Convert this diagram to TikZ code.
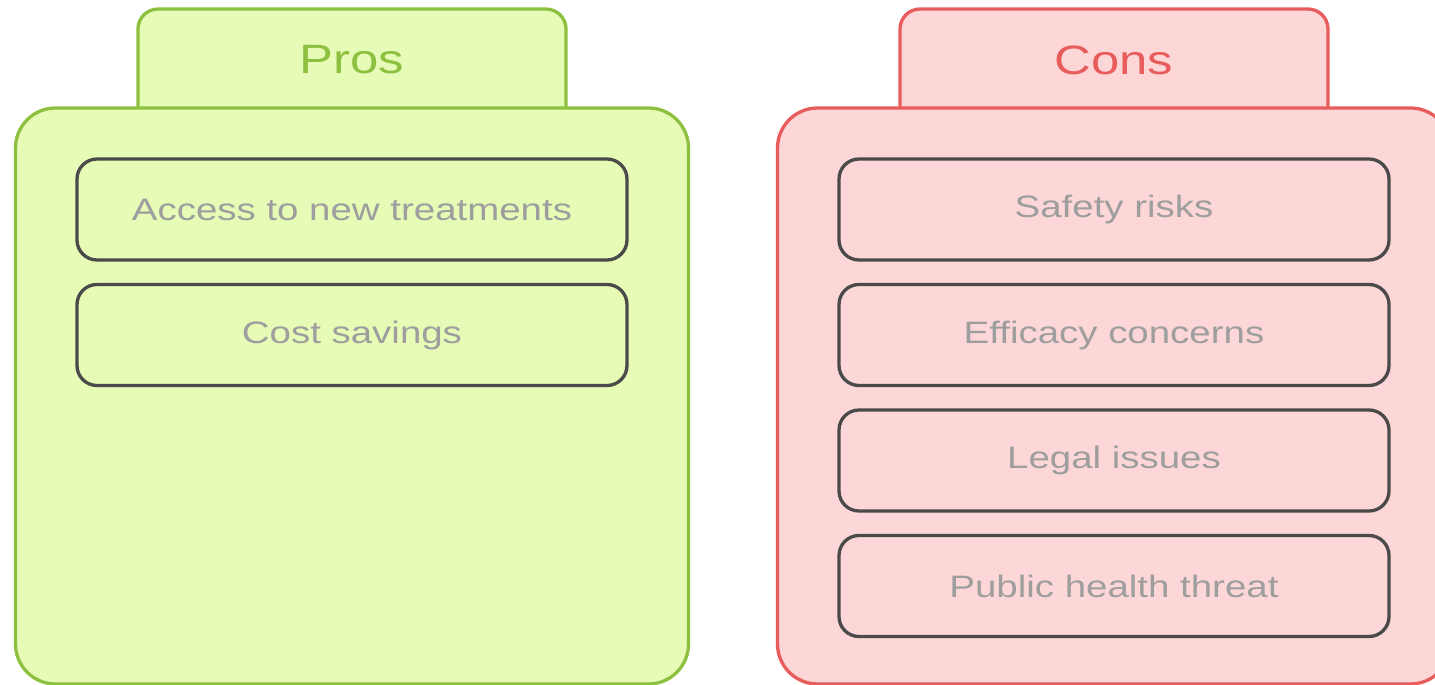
\documentclass[tikz,border=0pt]{standalone}
\usepackage{fontspec}
\setmainfont[FakeStretch=1.24]{Liberation Sans}
\definecolor{prosfill}{HTML}{E6FBB6}
\definecolor{prosline}{HTML}{8DC03F}
\definecolor{consfill}{HTML}{FDD7D7}
\definecolor{consline}{HTML}{E85C5C}
\definecolor{itemline}{HTML}{4A4A4A}
\definecolor{itemtext}{HTML}{9E9E9E}
\newcommand*\prosConsColumn[4]{%
    \node[column/tab=#1] (#1 tab) at (#2,69.5) {};
    \node[column/body=#1] (#1 body) at (#2,396) {};
    \node[column/title=#1] (#1 title) at (#2,60) {#3};
    \foreach \entry [count=\i] in {#4} {%
        \node[column/item] (#1 item \i) at (#2,{209.5+125.5*(\i-1)}) {\entry};
    }
}
\tikzset{column/.cd,
         tab/.style={draw=#1line,fill=#1fill,line width=3.3pt,rounded corners=20pt,
                     minimum width=428pt,minimum height=121pt},
         body/.style={draw=#1line,fill=#1fill,line width=3.3pt,rounded corners=40pt,
                      minimum width=673pt,minimum height=576pt},
         title/.style={text=#1line,font=\fontsize{41}{41}\selectfont},
         item/.style={draw=itemline,line width=3.3pt,rounded corners=20pt,text=itemtext,
                      minimum width=550pt,minimum height=101pt,
                      font=\fontsize{31}{31}\selectfont}}

\begin{document}
\begin{tikzpicture}[x=1pt,y=-1pt]
\useasboundingbox (0,0) rectangle (1435,685);
\clip (0,0) rectangle (1435,685);
\prosConsColumn{pros}{352}{Pros}{Access to new treatments,Cost savings}
\prosConsColumn{cons}{1114}{Cons}{Safety risks,Efficacy concerns,Legal issues,Public health threat}
\end{tikzpicture}
\end{document}
